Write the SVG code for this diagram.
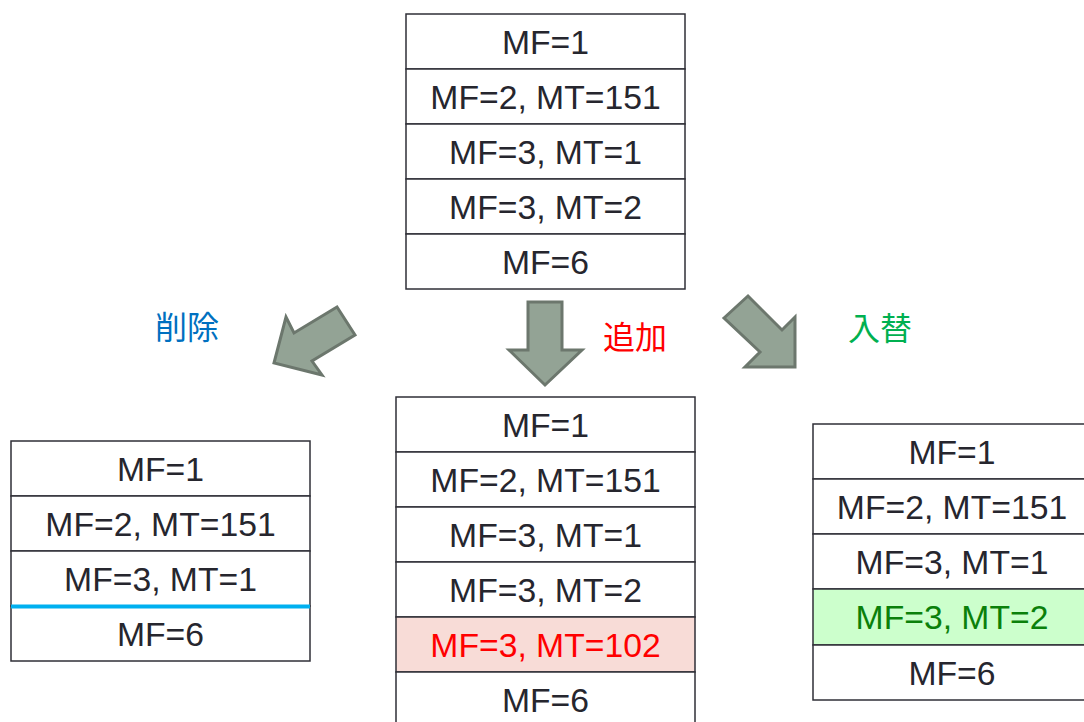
<svg xmlns="http://www.w3.org/2000/svg" width="1084" height="722" viewBox="0 0 1084 722">
<style>
.cell{fill:#ffffff;stroke:#2f2f37;stroke-width:1.5}
.t{font-family:"Liberation Sans",Arial,sans-serif;font-size:33.7px;fill:#26262e;text-anchor:middle}
.arr{fill:#93a395;stroke:#6c776d;stroke-width:3;stroke-linejoin:miter}
.lbl{font-family:"Noto Sans CJK JP","Noto Sans",sans-serif;font-size:32px;font-weight:400;text-anchor:middle}
</style>
<rect width="1084" height="722" fill="#ffffff"/>
<g id="top-table">
<rect class="cell" x="406" y="14" width="279" height="55"/>
<rect class="cell" x="406" y="69" width="279" height="55"/>
<rect class="cell" x="406" y="124" width="279" height="55"/>
<rect class="cell" x="406" y="179" width="279" height="55"/>
<rect class="cell" x="406" y="234" width="279" height="55"/>
<text class="t" x="545.5" y="53.6">MF=1</text>
<text class="t" x="545.5" y="108.6">MF=2, MT=151</text>
<text class="t" x="545.5" y="163.6">MF=3, MT=1</text>
<text class="t" x="545.5" y="218.6">MF=3, MT=2</text>
<text class="t" x="545.5" y="273.6">MF=6</text>
</g>
<g id="connectors">
<polygon class="arr" points="274,363 286,317 294,333 337,307 355,335 312,361 322,375"/>
<polygon class="arr" points="528,302 562,302 562,350 582,350 545,385 509,350 528,350"/>
<polygon class="arr" points="724,318 748,296 782,330 795,317 795,367 745,367 760,352"/>
</g>
<g id="label-delete"><text class="lbl" x="187" y="339" fill="#0070c0">削除</text></g>
<g id="label-add"><text class="lbl" x="635" y="349" fill="#ff0000">追加</text></g>
<g id="label-replace"><text class="lbl" x="880" y="340" fill="#00b050">入替</text></g>
<g id="left-table">
<rect class="cell" x="11" y="441" width="299" height="55"/>
<rect class="cell" x="11" y="496" width="299" height="55"/>
<rect class="cell" x="11" y="551" width="299" height="55"/>
<rect class="cell" x="11" y="606" width="299" height="55"/>
<line x1="11" y1="606.5" x2="310" y2="606.5" stroke="#00b0f0" stroke-width="4"/>
<text class="t" x="160.5" y="480.6">MF=1</text>
<text class="t" x="160.5" y="535.6">MF=2, MT=151</text>
<text class="t" x="160.5" y="590.6">MF=3, MT=1</text>
<text class="t" x="160.5" y="645.6">MF=6</text>
</g>
<g id="middle-table">
<rect class="cell" x="396" y="397" width="299" height="55"/>
<rect class="cell" x="396" y="452" width="299" height="55"/>
<rect class="cell" x="396" y="507" width="299" height="55"/>
<rect class="cell" x="396" y="562" width="299" height="55"/>
<rect class="cell" x="396" y="617" width="299" height="55" style="fill:#f8dcd7"/>
<rect class="cell" x="396" y="672" width="299" height="55"/>
<text class="t" x="545.5" y="436.6">MF=1</text>
<text class="t" x="545.5" y="491.6">MF=2, MT=151</text>
<text class="t" x="545.5" y="546.6">MF=3, MT=1</text>
<text class="t" x="545.5" y="601.6">MF=3, MT=2</text>
<text class="t" x="545.5" y="656.6" style="fill:#ff0000">MF=3, MT=102</text>
<text class="t" x="545.5" y="711.6">MF=6</text>
</g>
<g id="right-table">
<rect class="cell" x="813" y="424" width="279" height="55"/>
<rect class="cell" x="813" y="479" width="279" height="55"/>
<rect class="cell" x="813" y="534" width="279" height="55"/>
<rect class="cell" x="813" y="589" width="279" height="56" style="fill:#ccffcc"/>
<rect class="cell" x="813" y="645" width="279" height="55"/>
<text class="t" x="952" y="463.6">MF=1</text>
<text class="t" x="952" y="518.6">MF=2, MT=151</text>
<text class="t" x="952" y="573.6">MF=3, MT=1</text>
<text class="t" x="952" y="628.6" style="fill:#0a800a">MF=3, MT=2</text>
<text class="t" x="952" y="684.6">MF=6</text>
</g>
</svg>
